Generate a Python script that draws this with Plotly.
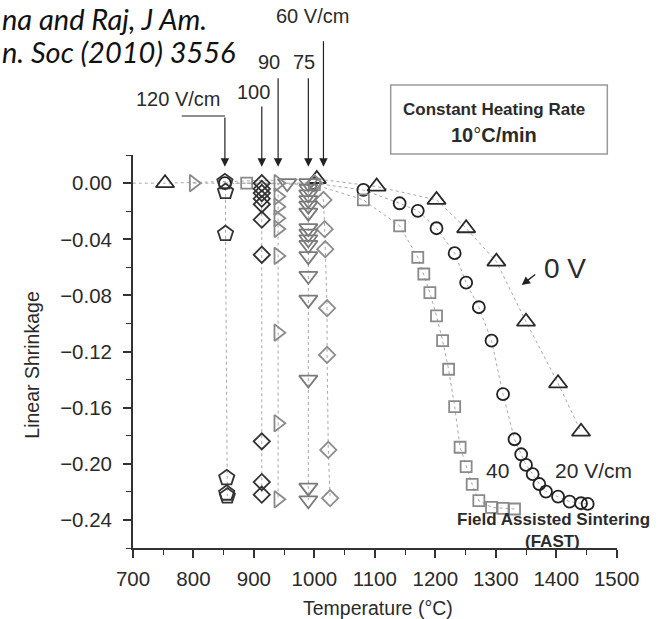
import plotly.graph_objects as go

# ---------------- data: temperature (°C) and linear shrinkage ----------------
# 0 V (conventional sintering)
t_0v = [650, 753, 1004, 1103, 1202, 1251, 1301, 1350, 1403, 1441]
s_0v = [0.0, 0.0, 0.003, -0.0024, -0.0119, -0.0321, -0.0559, -0.0987, -0.1426, -0.1771]

# 20 V/cm
t_20v = [852, 1000, 1081, 1141, 1171, 1202, 1232, 1251, 1272, 1293, 1312, 1331,
         1342, 1350, 1361, 1372, 1383, 1403, 1422, 1441, 1452]
s_20v = [0.0, 0.0, -0.0048, -0.0143, -0.0197, -0.0321, -0.0499, -0.0709, -0.0884,
         -0.1122, -0.1504, -0.1825, -0.1932, -0.2008, -0.2073, -0.2144, -0.2198,
         -0.2234, -0.2270, -0.2281, -0.2286]

# 40 V/cm
t_40v = [888, 1000, 1081, 1141, 1171, 1181, 1191, 1202, 1212, 1222, 1232, 1241,
         1251, 1261, 1272, 1293, 1312, 1331]
s_40v = [0.0, -0.001, -0.0119, -0.0304, -0.0528, -0.0647, -0.078, -0.0946, -0.1122,
         -0.1326, -0.1593, -0.1882, -0.202, -0.2146, -0.2263, -0.231, -0.2317, -0.2322]

# 60 V/cm
t_60v = [1000, 1015, 1017, 1018, 1021, 1021, 1023, 1026]
s_60v = [0.0, -0.0119, -0.0328, -0.047, -0.0891, -0.1224, -0.1901, -0.2245]

# 75 V/cm
t_75v = [955, 990, 990, 990, 990, 990, 990, 990, 990, 990, 990, 990, 990, 990, 990, 990, 990]
s_75v = [0.0, 0.0, -0.004, -0.008, -0.012, -0.016, -0.021, -0.032, -0.036, -0.040,
         -0.044, -0.052, -0.066, -0.083, -0.140, -0.217, -0.226]

# 90 V/cm
t_90v = [800, 940, 940, 940, 940, 940, 940, 940, 940, 940]
s_90v = [0.0, 0.0, -0.0095, -0.0167, -0.025, -0.0326, -0.0518, -0.1065, -0.1711, -0.2253]

# 100 V/cm
t_100v = [913, 913, 913, 913, 913, 913, 913, 913, 913, 913]
s_100v = [0.0, -0.004, -0.007, -0.011, -0.015, -0.026, -0.051, -0.184, -0.213, -0.222]

# 120 V/cm
t_120v = [852, 853, 853, 855, 855, 856]
s_120v = [0.001, -0.006, -0.036, -0.210, -0.221, -0.223]

x_ticks = [700, 800, 900, 1000, 1100, 1200, 1300, 1400, 1500]
y_ticks = [0.00, -0.04, -0.08, -0.12, -0.16, -0.20, -0.24]

# ---------------- styles ----------------
series = [
    # (temps, shrinkage, symbol, size, colour)
    (t_0v, s_0v, "triangle-up-open", 16, "#2a2a2a"),
    (t_20v, s_20v, "circle-open", 12, "#222222"),
    (t_40v, s_40v, "square-open", 11, "#8a8a8a"),
    (t_60v, s_60v, "diamond-open", 12.5, "#8c8c8c"),
    (t_75v, s_75v, "triangle-down-open", 16, "#7a7a7a"),
    (t_90v, s_90v, "triangle-right-open", 14.5, "#8a8a8a"),
    (t_100v, s_100v, "diamond-open", 12.5, "#333333"),
    (t_120v, s_120v, "pentagon-open", 16, "#333333"),
]

fig = go.Figure()

# dotted guide lines under all the markers
for t, s, sym, size, col in series:
    fig.add_trace(go.Scatter(x=t, y=s, mode="lines", hoverinfo="skip",
                             line=dict(color="#a8a8a8", width=1, dash="dot")))
for t, s, sym, size, col in series:
    fig.add_trace(go.Scatter(x=t, y=s, mode="markers",
                             marker=dict(symbol=sym, size=size, color=col,
                                         line=dict(color=col, width=1.8))))

# plot-area geometry (px) used for placing labels around the axes
W, H = 671, 619
L, R, T, B = 133, 617, 155, 548


def px(x):
    return (x - L) / (R - L)


def py(y):
    return (B - y) / (B - T)


FONT = "Liberation Sans, Arial, sans-serif"
INK = "#2b2b2b"

annotations = []


def label(text, x, y, size, bold=False, **kw):
    if bold:
        text = "<b>" + text + "</b>"
    d = dict(text=text, x=px(x), y=py(y), xref="paper", yref="paper",
             showarrow=False, xanchor="center", yanchor="middle",
             font=dict(family=FONT, size=size, color=INK))
    d.update(kw)
    annotations.append(d)


# axis titles
label("Temperature (°C)", 378, 608, 19.5)
label("Linear Shrinkage", 31.7, 365, 19.5, textangle=-90)

# field labels above the curves
label("120 V/cm", 177.7, 99, 20)
label("100", 253.5, 92, 20)
label("90", 269, 62, 20)
label("75", 304, 62, 20)
label("60 V/cm", 312, 16, 20)

label("0 V", 565, 268, 28)
label("40", 497, 470, 21)
label("20 V/cm", 593, 470, 21)
label("Field Assisted Sintering", 553, 519, 17, bold=True)
label("(FAST)", 552, 541.5, 17, bold=True)

label("Constant Heating Rate", 494, 110, 17, bold=True)
label("<b>10</b>°<b>C/min</b>", 494, 135, 20)

# reference note, top left
for txt, yy in [("na and Raj, J Am.", 18), ("n. Soc (2010) 3556", 51)]:
    annotations.append(dict(text="<i>" + txt + "</i>", x=px(0), y=py(yy),
                            xref="paper", yref="paper", showarrow=False,
                            xanchor="left", yanchor="middle",
                            font=dict(family="Lato, sans-serif", size=29,
                                      color="#111")))

# arrows pointing at each field series
head_y = py(166.7)
for t_arrow, length in [(t_120v[0], 50.7), (t_100v[0], 61.7), (t_90v[1], 90),
                        (t_75v[1], 90), (t_60v[1], 127)]:
    annotations.append(dict(x=t_arrow, y=head_y, xref="x", yref="paper",
                            ax=0, ay=-length, showarrow=True, arrowhead=2,
                            arrowsize=1.4, arrowwidth=1.2, arrowcolor="#222",
                            standoff=0, text=""))

# arrow toward the 0 V curve
annotations.append(dict(x=px(521.7), y=py(285), xref="paper", yref="paper",
                        ax=15, ay=-11.7, showarrow=True, arrowhead=2,
                        arrowsize=1.2, arrowwidth=1.4, arrowcolor="#222",
                        standoff=0, text=""))

shapes = [
    # elbow of the 120 V/cm arrow
    dict(type="line", xref="paper", yref="paper",
         x0=px(181.7), x1=px(225.0), y0=py(116), y1=py(116),
         line=dict(color="#222", width=1.2)),
    # box with heating-rate note
    dict(type="rect", xref="paper", yref="paper",
         x0=px(390.7), x1=px(607.3), y0=py(154), y1=py(85),
         line=dict(color="#9a9a9a", width=1.5)),
]

fig.update_layout(
    width=W, height=H,
    margin=dict(l=L, r=W - R, t=T, b=H - B, pad=0),
    paper_bgcolor="white", plot_bgcolor="white",
    showlegend=False,
    font=dict(family=FONT, color=INK),
    annotations=annotations, shapes=shapes,
)

axis_common = dict(
    showgrid=False, zeroline=False, showline=True,
    linecolor="#333", linewidth=1.8,
    ticks="outside", ticklen=8, tickwidth=1.5, tickcolor="#333",
    tickfont=dict(family=FONT, size=20.5, color=INK),
)

fig.update_xaxes(range=[700, 1500.5], tickvals=x_ticks,
                 minor=dict(dtick=50, tick0=700, ticks="outside", ticklen=5,
                            tickwidth=1.3, tickcolor="#333"),
                 ticklabelstandoff=3, **axis_common)
fig.update_yaxes(range=[-0.26, 0.0201], tickvals=y_ticks, tickformat=".2f",
                 minor=dict(dtick=0.02, tick0=0, ticks="outside", ticklen=5,
                            tickwidth=1.3, tickcolor="#333"),
                 ticklabelstandoff=7, **axis_common)

fig.write_html("out.html")
